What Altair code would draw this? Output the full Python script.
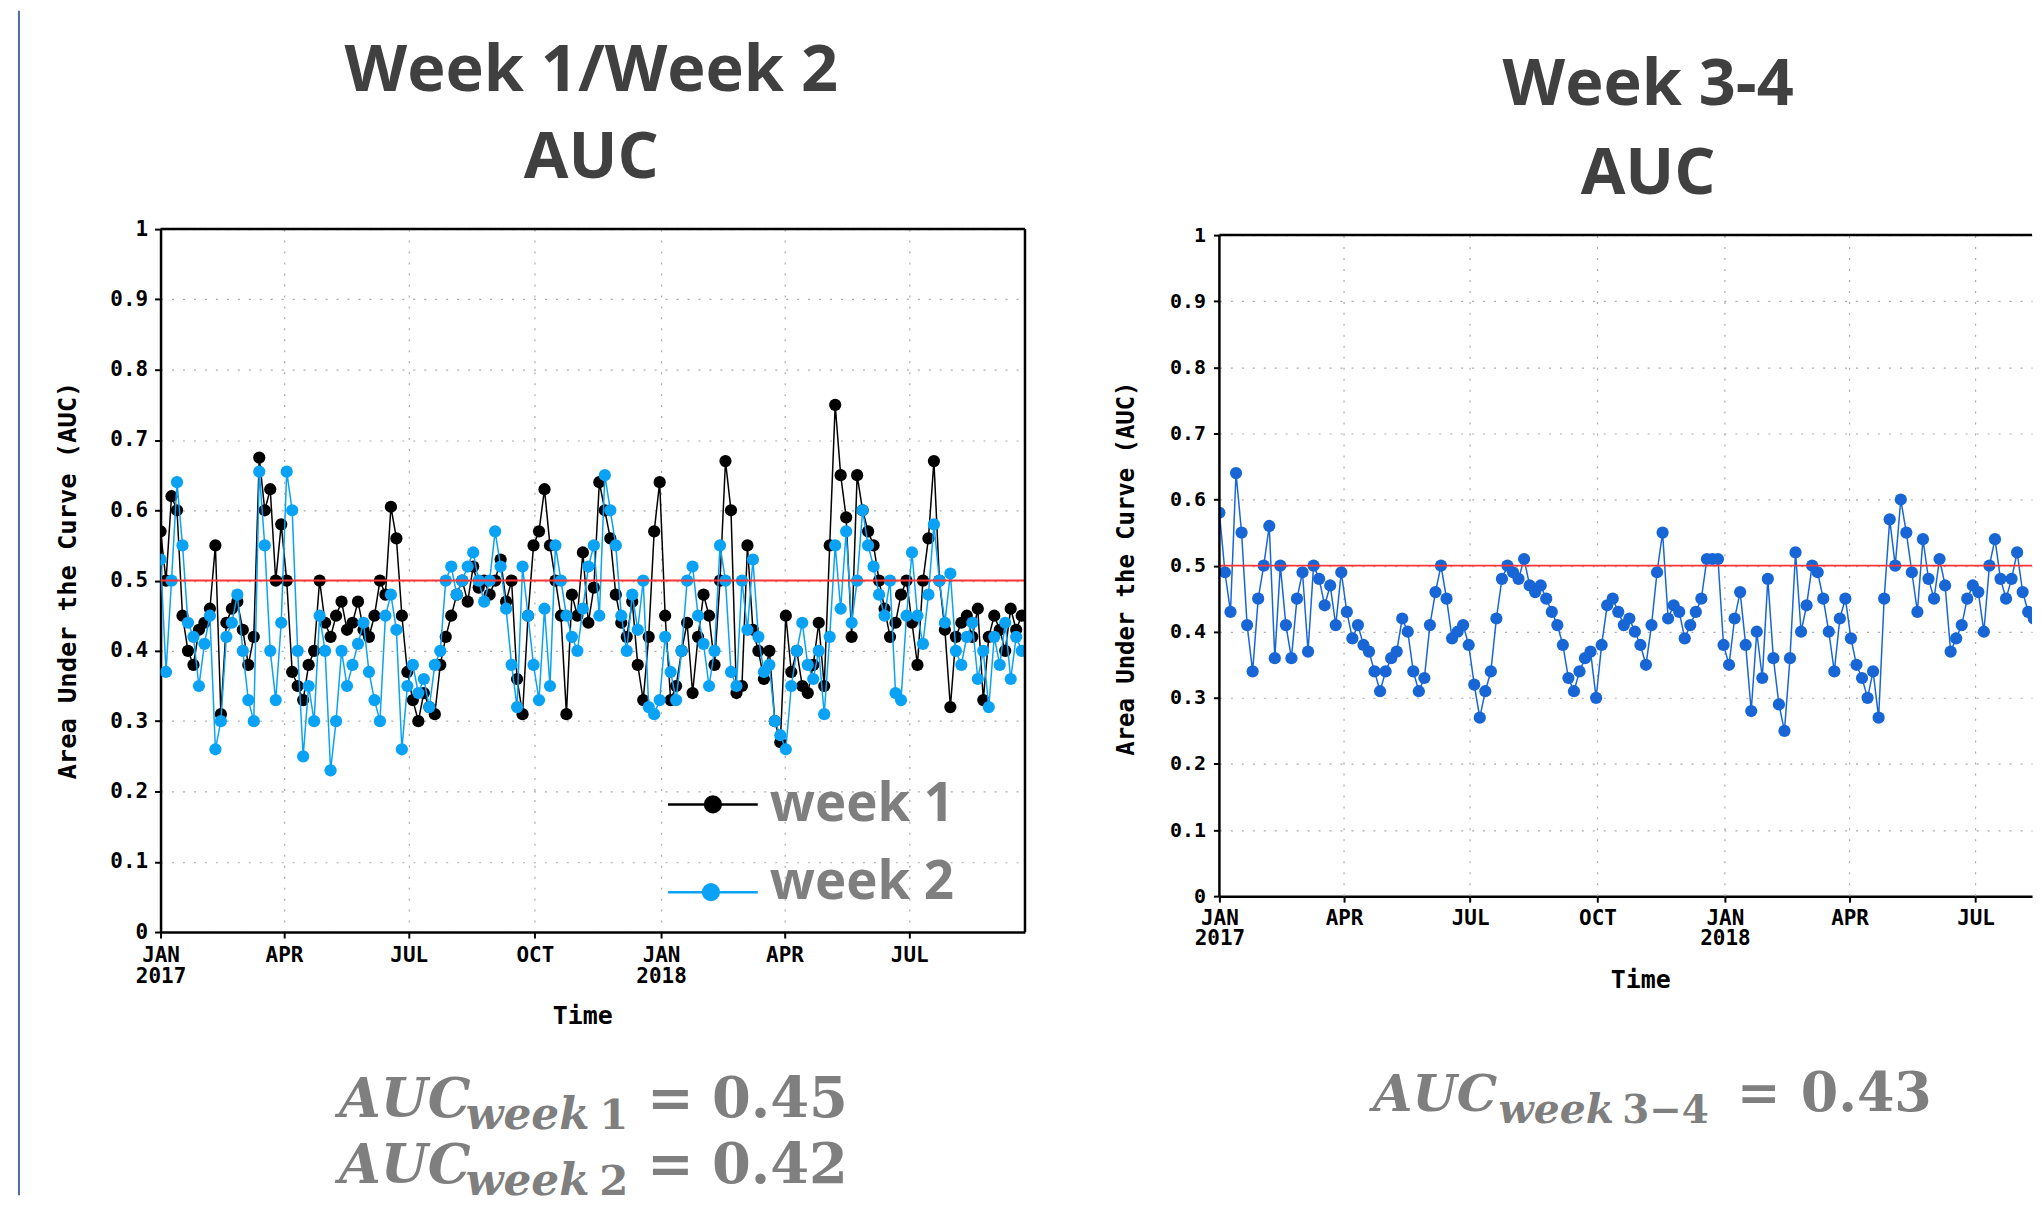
import altair as alt
import pandas as pd

# ---------------- data (one value every 4 days) ----------------
START = "2017-01-01"
STEP = "4D"

WEEK1 = [0.57, 0.5, 0.62, 0.6, 0.45, 0.4, 0.38, 0.43, 0.44, 0.46,
         0.55, 0.31, 0.44, 0.46, 0.47, 0.43, 0.38, 0.42, 0.675, 0.6,
         0.63, 0.5, 0.58, 0.5, 0.37, 0.35, 0.33, 0.38, 0.4, 0.5,
         0.44, 0.42, 0.45, 0.47, 0.43, 0.44, 0.47, 0.43, 0.42, 0.45,
         0.5, 0.48, 0.605, 0.56, 0.45, 0.37, 0.33, 0.3, 0.34, 0.32,
         0.31, 0.38, 0.42, 0.45, 0.48, 0.5, 0.47, 0.52, 0.49, 0.5,
         0.48, 0.5, 0.53, 0.47, 0.5, 0.36, 0.31, 0.45, 0.55, 0.57,
         0.63, 0.55, 0.5, 0.45, 0.31, 0.48, 0.45, 0.54, 0.44, 0.49,
         0.64, 0.6, 0.56, 0.48, 0.44, 0.42, 0.47, 0.38, 0.33, 0.42,
         0.57, 0.64, 0.45, 0.33, 0.35, 0.4, 0.44, 0.34, 0.42, 0.48,
         0.45, 0.38, 0.5, 0.67, 0.6, 0.34, 0.35, 0.55, 0.43, 0.4,
         0.36, 0.4, 0.3, 0.27, 0.45, 0.37, 0.4, 0.35, 0.34, 0.38,
         0.44, 0.35, 0.55, 0.75, 0.65, 0.59, 0.42, 0.65, 0.6, 0.57,
         0.55, 0.5, 0.46, 0.42, 0.44, 0.48, 0.5, 0.44, 0.38, 0.5,
         0.56, 0.67, 0.5, 0.43, 0.32, 0.42, 0.44, 0.45, 0.42, 0.46,
         0.33, 0.42, 0.45, 0.43, 0.4, 0.46, 0.43, 0.45]

WEEK2 = [0.53, 0.37, 0.5, 0.64, 0.55, 0.44, 0.42, 0.35, 0.41, 0.45,
         0.26, 0.3, 0.42, 0.44, 0.48, 0.4, 0.33, 0.3, 0.655, 0.55,
         0.4, 0.33, 0.44, 0.655, 0.6, 0.4, 0.25, 0.35, 0.3, 0.45,
         0.4, 0.23, 0.3, 0.4, 0.35, 0.38, 0.41, 0.44, 0.37, 0.33,
         0.3, 0.45, 0.48, 0.43, 0.26, 0.35, 0.38, 0.34, 0.36, 0.32,
         0.38, 0.4, 0.5, 0.52, 0.48, 0.5, 0.52, 0.54, 0.5, 0.47,
         0.5, 0.57, 0.52, 0.46, 0.38, 0.32, 0.52, 0.45, 0.38, 0.33,
         0.46, 0.35, 0.55, 0.5, 0.45, 0.42, 0.4, 0.46, 0.52, 0.55,
         0.45, 0.65, 0.6, 0.55, 0.45, 0.4, 0.48, 0.43, 0.5, 0.32,
         0.31, 0.33, 0.42, 0.37, 0.33, 0.4, 0.5, 0.52, 0.45, 0.41,
         0.35, 0.4, 0.55, 0.5, 0.37, 0.35, 0.5, 0.43, 0.53, 0.42,
         0.37, 0.38, 0.3, 0.28, 0.26, 0.35, 0.4, 0.44, 0.38, 0.36,
         0.4, 0.31, 0.42, 0.55, 0.46, 0.57, 0.44, 0.5, 0.6, 0.55,
         0.52, 0.48, 0.45, 0.5, 0.34, 0.33, 0.45, 0.54, 0.45, 0.41,
         0.48, 0.58, 0.5, 0.44, 0.51, 0.4, 0.38, 0.42, 0.44, 0.36,
         0.4, 0.32, 0.42, 0.38, 0.44, 0.36, 0.42, 0.4]

WEEK34 = [0.58, 0.49, 0.43, 0.64, 0.55, 0.41, 0.34, 0.45, 0.5, 0.56,
          0.36, 0.5, 0.41, 0.36, 0.45, 0.49, 0.37, 0.5, 0.48, 0.44,
          0.47, 0.41, 0.49, 0.43, 0.39, 0.41, 0.38, 0.37, 0.34, 0.31,
          0.34, 0.36, 0.37, 0.42, 0.4, 0.34, 0.31, 0.33, 0.41, 0.46,
          0.5, 0.45, 0.39, 0.4, 0.41, 0.38, 0.32, 0.27, 0.31, 0.34,
          0.42, 0.48, 0.5, 0.49, 0.48, 0.51, 0.47, 0.46, 0.47, 0.45,
          0.43, 0.41, 0.38, 0.33, 0.31, 0.34, 0.36, 0.37, 0.3, 0.38,
          0.44, 0.45, 0.43, 0.41, 0.42, 0.4, 0.38, 0.35, 0.41, 0.49,
          0.55, 0.42, 0.44, 0.43, 0.39, 0.41, 0.43, 0.45, 0.51, 0.51,
          0.51, 0.38, 0.35, 0.42, 0.46, 0.38, 0.28, 0.4, 0.33, 0.48,
          0.36, 0.29, 0.25, 0.36, 0.52, 0.4, 0.44, 0.5, 0.49, 0.45,
          0.4, 0.34, 0.42, 0.45, 0.39, 0.35, 0.33, 0.3, 0.34, 0.27,
          0.45, 0.57, 0.5, 0.6, 0.55, 0.49, 0.43, 0.54, 0.48, 0.45,
          0.51, 0.47, 0.37, 0.39, 0.41, 0.45, 0.47, 0.46, 0.4, 0.5,
          0.54, 0.48, 0.45, 0.48, 0.52, 0.46, 0.43, 0.42]

QUARTERS = [(2017, 1), (2017, 4), (2017, 7), (2017, 10), (2018, 1), (2018, 4), (2018, 7)]
Y_TICKS = [0, 0.1, 0.2, 0.3, 0.4, 0.5, 0.6, 0.7, 0.8, 0.9, 1]
REFERENCE_LINE = 0.5

TITLE_LEFT = ["Week 1/Week 2", "AUC"]
TITLE_RIGHT = ["Week 3-4", "AUC"]
LEGEND_LABELS = ["week 1", "week 2"]
Y_TITLE = "Area Under the Curve (AUC)"
X_TITLE = "Time"
AUC_LEFT = [("week", "1", "0.45"), ("week", "2", "0.42")]
AUC_RIGHT = [("week", "3\u22124", "0.43")]

C1, C2, C34 = "#000000", "#0aa2f5", "#1866d6"
RED = "#ff3535"
GRID = "#ababab"
TITLE_GRAY = "#404040"
TEXT_GRAY = "#7f7f7f"
MONO = "DejaVu Sans Mono"
SERIF = "DejaVu Serif"
SANS = "Open Sans"

df1 = pd.DataFrame({"date": pd.date_range(START, periods=len(WEEK1), freq=STEP), "auc": WEEK1})
df2 = pd.DataFrame({"date": pd.date_range(START, periods=len(WEEK2), freq=STEP), "auc": WEEK2})
df34 = pd.DataFrame({"date": pd.date_range(START, periods=len(WEEK34), freq=STEP), "auc": WEEK34})
dfq = pd.DataFrame({"date": [pd.Timestamp(y, m, 1) for y, m in QUARTERS]})
one = pd.DataFrame({"k": [0]})

D0 = alt.DateTime(year=2017, month=1, date=1)
XS_L = alt.Scale(domain=[D0, alt.DateTime(year=2018, month=9, date=23, hours=10)], nice=False)
XS_R = alt.Scale(domain=[D0, alt.DateTime(year=2018, month=8, date=10, hours=18)], nice=False)
YS_L = alt.Scale(domain=[0, 1], nice=False, zero=False)
YS_R = alt.Scale(domain=[0, 1.00905], nice=False, zero=False)

LABEL_EXPR = ("month(datum.value) == 0 ? [upper(timeFormat(datum.value, '%b')), "
              "timeFormat(datum.value, '%Y')] : upper(timeFormat(datum.value, '%b'))")


def x_axis(grid, title_x, title_y, pad):
    return alt.Axis(
        values=[alt.DateTime(year=y, month=m, date=1) for y, m in QUARTERS],
        labelExpr=LABEL_EXPR, labelFont=MONO, labelFontWeight="bold", labelFontSize=21,
        labelColor="black", labelLineHeight=21, labelPadding=pad, labelAlign="center",
        labelBaseline="top", labelOverlap=False, labelFlush=False,
        tickSize=6, tickWidth=2, tickColor="black",
        domain=True, domainColor="black", domainWidth=2.5,
        grid=grid, gridColor=GRID, gridDash=[2, 9], gridWidth=1.2,
        title=X_TITLE, titleFont=MONO, titleFontWeight="bold", titleFontSize=25,
        titleColor="black", titleX=title_x, titleY=title_y, titleBaseline="alphabetic",
        titleAlign="center")


def y_axis(domain, label_size, title_size, title_y, pad):
    return alt.Axis(
        values=Y_TICKS, format="~g", labelFont=MONO, labelFontWeight="bold",
        labelFontSize=label_size, labelColor="black", labelPadding=pad,
        tickSize=6, tickWidth=2, tickColor="black",
        domain=domain, domainColor="black", domainWidth=2.5,
        grid=True, gridColor=GRID, gridDash=[2, 9], gridWidth=1.2,
        title=Y_TITLE, titleFont=MONO, titleFontWeight="bold", titleFontSize=title_size,
        titleColor="black", titleX=-93, titleY=title_y, titleBaseline="middle",
        titleAlign="center")


def text(t, x, y, size, font, color, weight="bold", style="normal", align="left"):
    return alt.Chart(pd.DataFrame({"t": [t]})).mark_text(
        font=font, fontSize=size, fontWeight=weight, fontStyle=style, color=color,
        align=align, baseline="alphabetic").encode(
        x=alt.value(x), y=alt.value(y), text="t:N")


def series(df, color, xs, ys, xaxis=None, yaxis=None):
    xenc = alt.X("date:T", scale=xs, axis=xaxis) if xaxis is not None else alt.X("date:T", scale=xs)
    yenc = alt.Y("auc:Q", scale=ys, axis=yaxis) if yaxis is not None else alt.Y("auc:Q", scale=ys)
    line = alt.Chart(df).mark_line(color=color, strokeWidth=1.5, clip=True).encode(x=xenc, y=yenc)
    pts = alt.Chart(df).mark_point(filled=True, size=150, color=color, opacity=1, clip=True).encode(
        x=alt.X("date:T", scale=xs), y=alt.Y("auc:Q", scale=ys))
    return [line, pts]


# ---------------- left panel ----------------
left_layers = []
left_layers += series(df1, C1, XS_L, YS_L,
                      xaxis=x_axis(True, 423, 92, 7),
                      yaxis=y_axis(True, 21, 25.5, 352, 7))
left_layers += series(df2, C2, XS_L, YS_L)
left_layers += [
    alt.Chart(one).mark_rule(color=RED, strokeWidth=2).encode(y=alt.YDatum(REFERENCE_LINE, scale=YS_L)),
    alt.Chart(one).mark_rule(color="black", strokeWidth=2.5).encode(y=alt.YDatum(1, scale=YS_L)),
    alt.Chart(one).mark_rule(color="black", strokeWidth=2.5).encode(
        x=alt.XDatum(alt.DateTime(year=2018, month=9, date=23, hours=10), type="temporal", scale=XS_L)),
    # legend
    alt.Chart(one).mark_rule(color=C1, strokeWidth=2.5).encode(x=alt.value(509), x2=alt.value(599), y=alt.value(577)),
    alt.Chart(one).mark_point(filled=True, size=330, color=C1, opacity=1).encode(x=alt.value(554), y=alt.value(577)),
    alt.Chart(one).mark_rule(color=C2, strokeWidth=2.5).encode(x=alt.value(509), x2=alt.value(599), y=alt.value(665)),
    alt.Chart(one).mark_point(filled=True, size=330, color=C2, opacity=1).encode(x=alt.value(552), y=alt.value(665)),
    text(LEGEND_LABELS[0], 611, 594, 53, SANS, TEXT_GRAY),
    text(LEGEND_LABELS[1], 611, 672, 53, SANS, TEXT_GRAY),
    # titles
    text(TITLE_LEFT[0], 432, -139, 65, SANS, TITLE_GRAY, align="center"),
    text(TITLE_LEFT[1], 432, -51, 65, SANS, TITLE_GRAY, align="center"),
    # slide border
    alt.Chart(one).mark_rule(color="#4e6fa3", strokeWidth=2).encode(
        x=alt.value(-142), y=alt.value(-219), y2=alt.value(969)),
]
for (sub, num, val), base in zip(AUC_LEFT, [891, 957]):
    left_layers += [
        text("AUC", 179, base, 54, SERIF, TEXT_GRAY, style="italic"),
        text(sub, 306, base + 12, 44, SERIF, TEXT_GRAY, style="italic"),
        text(num, 440, base + 12, 42, SERIF, TEXT_GRAY),
        text("=", 488, base, 56, SERIF, TEXT_GRAY),
        text(val, 553, base, 56, SERIF, TEXT_GRAY),
    ]

left = alt.layer(*left_layers).properties(width=867, height=705)

# ---------------- right panel ----------------
right_layers = [
    alt.Chart(dfq).mark_rule(color=GRID, strokeDash=[2, 9], strokeWidth=1.2).encode(
        x=alt.X("date:T", scale=XS_R), y=alt.YDatum(0, scale=YS_R), y2=alt.Y2Datum(1)),
]
right_layers += series(df34, C34, XS_R, YS_R,
                       xaxis=x_axis(False, 422, 92, 5),
                       yaxis=y_axis(False, 20, 24, 340, 8))
right_layers += [
    alt.Chart(one).mark_rule(color=RED, strokeWidth=2).encode(y=alt.YDatum(REFERENCE_LINE, scale=YS_R)),
    alt.Chart(one).mark_rule(color="black", strokeWidth=2.5).encode(y=alt.YDatum(1, scale=YS_R)),
    alt.Chart(one).mark_rule(color="black", strokeWidth=2.5).encode(
        x=alt.XDatum(D0, type="temporal", scale=XS_R), y=alt.YDatum(0, scale=YS_R), y2=alt.Y2Datum(1)),
    text(TITLE_RIGHT[0], 430, -124, 65, SANS, TITLE_GRAY, align="center"),
    text(TITLE_RIGHT[1], 430, -35, 65, SANS, TITLE_GRAY, align="center"),
    alt.Chart(one).mark_rule(strokeOpacity=0, strokeWidth=1, color="white").encode(
        x=alt.value(-120), y=alt.value(-219), y2=alt.value(-218)),
]
for (sub, num, val), base in zip(AUC_RIGHT, [884]):
    right_layers += [
        text("AUC", 154, base, 51, SERIF, TEXT_GRAY, style="italic"),
        text(sub, 280, base + 13, 41, SERIF, TEXT_GRAY, style="italic"),
        text(num, 404, base + 13, 39, SERIF, TEXT_GRAY),
        text("=", 519, base, 52, SERIF, TEXT_GRAY),
        text(val, 583, base, 54, SERIF, TEXT_GRAY),
    ]

right = alt.layer(*right_layers).properties(width=815, height=669)

chart = alt.hconcat(left, right, spacing=73).properties(
    padding={"left": 10, "top": 0, "right": 0, "bottom": 0},
    background="white",
).configure_view(stroke=None)

chart.save("out.html", embed_options={"renderer": "svg", "actions": False})
